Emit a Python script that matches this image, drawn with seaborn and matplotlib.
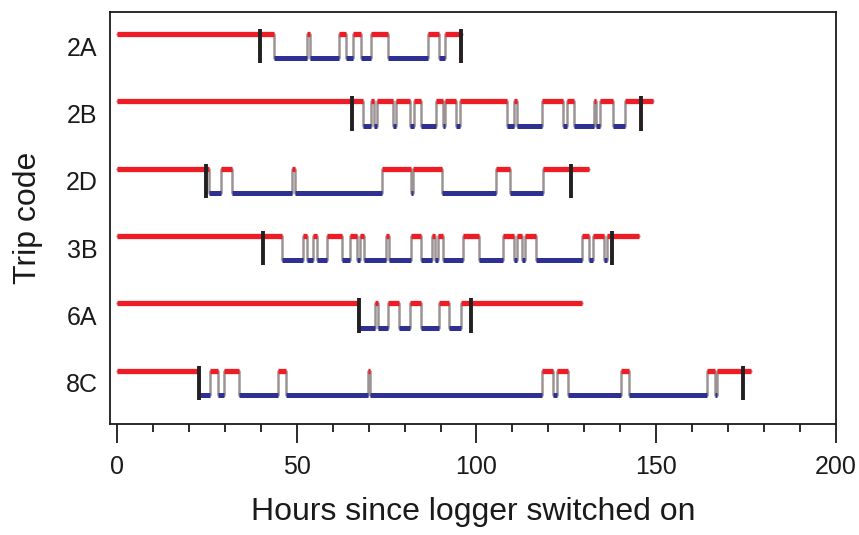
import matplotlib
matplotlib.use("Agg")
import matplotlib.pyplot as plt
import seaborn as sns
import pandas as pd
from matplotlib.ticker import MultipleLocator

# Trip codes, top to bottom
trips = ["2A", "2B", "2D", "3B", "6A", "8C"]

# Hours at which the trace flips level (starts on the upper/red level, then alternates)
switch_2A = [43.7, 52.8, 53.7, 61.8, 63.7, 65.7, 67.8, 70.6, 75.5, 86.6, 89.7, 91.2]
switch_2B = [68.5, 70.6, 71.6, 72.3, 76.9, 77.5, 81.6, 82.5, 84.6, 88.6, 90.6, 91.3,
             94.4, 95.4, 108.4, 110.4, 111.4, 118.3, 124.2, 125.3, 127.1, 132.7,
             133.4, 134.4, 138.1, 141.2]
switch_2D = [25.7, 28.8, 31.9, 48.8, 49.6, 73.6, 81.8, 82.4, 90.5, 105.4, 109.3, 118.4]
switch_3B = [45.8, 51.8, 52.8, 54.6, 55.7, 58.5, 62.7, 64.8, 66.7, 67.6, 68.7, 74.8,
             75.7, 81.7, 84.5, 87.5, 88.5, 89.4, 90.6, 96.3, 100.7, 107.5, 110.4,
             111.2, 112.6, 113.5, 116.5, 129.3, 131.4, 132.3, 135.5, 136.4]
switch_6A = [67.1, 71.8, 72.7, 75.5, 78.5, 81.5, 84.6, 89.6, 92.3, 95.6]
switch_8C = [22.9, 25.9, 28.0, 29.8, 33.9, 44.7, 46.9, 69.7, 70.4, 118.3, 121.4,
             122.3, 125.4, 140.2, 142.4, 164.2, 166.3, 167.0]
switches = [switch_2A, switch_2B, switch_2D, switch_3B, switch_6A, switch_8C]

# End of each record (hours)
end_hours = [95.9, 149.2, 131.4, 145.3, 129.5, 176.3]

# Black bars: first and last mark of each trip
mark_first = [39.8, 65.4, 24.8, 40.5, 67.3, 22.7]
mark_last = [95.8, 145.7, 126.2, 137.8, 98.4, 174.2]

RED = "#ee1d25"
BLUE = "#2e3192"
GREY = "#9c9494"
INK = "#1a1a1a"
off = 0.18

sns.set_theme(style="white")
plt.rcParams["font.family"] = ["Liberation Sans", "DejaVu Sans"]
plt.rcParams.update({"text.color": INK, "axes.labelcolor": INK,
                     "xtick.color": INK, "ytick.color": INK})

fig = plt.figure(figsize=(8.59, 5.35), dpi=100)
ax = fig.add_axes([0.128, 0.2075, 0.845, 0.7705])

# build step vertices and level segments
rows = []
segs = []
for i, trip in enumerate(trips):
    base = len(trips) - i
    t = [0.0] + switches[i] + [end_hours[i]]
    for k in range(len(t) - 1):
        up = (k % 2 == 0)
        lev = base + off if up else base - off
        rows.append({"trip": trip, "hours": t[k], "level": lev})
        segs.append({"trip": trip, "start": t[k], "stop": t[k + 1], "level": lev, "up": up})
    rows.append({"trip": trip, "hours": t[-1], "level": lev})
steps = pd.DataFrame(rows)
segs = pd.DataFrame(segs)

# grey connecting trace
sns.lineplot(data=steps, x="hours", y="level", units="trip", estimator=None,
             sort=False, drawstyle="steps-post", color=GREY, lw=1.8, ax=ax,
             legend=False)

red = segs[segs["up"]]
blue = segs[~segs["up"]]
ax.hlines(red["level"], red["start"], red["stop"], colors=RED, lw=3.8, zorder=3)
ax.hlines(blue["level"], blue["start"], blue["stop"], colors=BLUE, lw=3.6, zorder=3)

ybase = [len(trips) - i for i in range(len(trips))]
for xs in (mark_first, mark_last):
    ax.vlines(xs, [b - 0.255 for b in ybase], [b + 0.255 for b in ybase],
              colors="#231f20", lw=2.8, zorder=4)

ax.set_xlim(-2, 200)
ax.set_ylim(0.39, 6.51)
ax.set_yticks(ybase)
ax.set_yticklabels(trips)
ax.xaxis.set_major_locator(MultipleLocator(50))
ax.xaxis.set_minor_locator(MultipleLocator(10))
ax.tick_params(axis="x", which="major", direction="out", length=14, width=1.3,
               color=INK, labelcolor=INK, labelsize=18, pad=8, bottom=True)
ax.tick_params(axis="x", which="minor", direction="out", length=6, width=1.3,
               color=INK, bottom=True)
ax.tick_params(axis="y", length=0, labelsize=18, pad=9, labelcolor=INK)
for s in ax.spines.values():
    s.set_color(INK)
    s.set_linewidth(1.3)

ax.set_xlabel("Hours since logger switched on", fontsize=23, labelpad=13)
ax.set_ylabel("Trip code", fontsize=23, labelpad=16)

fig.savefig("out.png", dpi=100)
